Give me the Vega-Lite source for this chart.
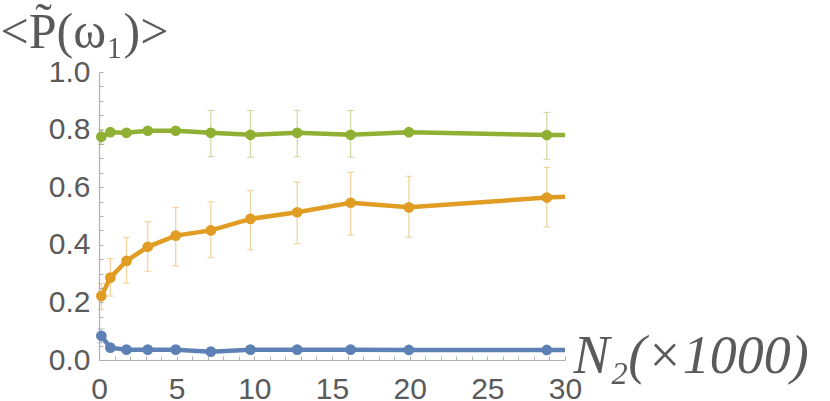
{
  "$schema": "https://vega.github.io/schema/vega-lite/v6.json",
  "width": 466,
  "height": 288,
  "autosize": {"type": "none"},
  "padding": {"left": 99, "top": 72, "right": 265, "bottom": 41},
  "background": "white",
  "config": {"view": {"stroke": null}},
  "data": {"values": [
    {"s": "a", "x": 0.15, "y": 0.084, "lo": 0.06, "hi": 0.108, "m": 1},
    {"s": "a", "x": 0.73, "y": 0.043, "m": 1},
    {"s": "a", "x": 1.77, "y": 0.036, "m": 1},
    {"s": "a", "x": 3.14, "y": 0.036, "m": 1},
    {"s": "a", "x": 4.94, "y": 0.036, "m": 1},
    {"s": "a", "x": 7.2, "y": 0.029, "m": 1},
    {"s": "a", "x": 9.75, "y": 0.036, "m": 1},
    {"s": "a", "x": 12.76, "y": 0.036, "m": 1},
    {"s": "a", "x": 16.2, "y": 0.036, "m": 1},
    {"s": "a", "x": 19.95, "y": 0.035, "m": 1},
    {"s": "a", "x": 28.83, "y": 0.035, "m": 1},
    {"s": "a", "x": 30, "y": 0.035, "m": 0},
    {"s": "b", "x": 0.15, "y": 0.222, "lo": 0.176, "hi": 0.266, "m": 1},
    {"s": "b", "x": 0.73, "y": 0.286, "lo": 0.222, "hi": 0.352, "m": 1},
    {"s": "b", "x": 1.77, "y": 0.344, "lo": 0.267, "hi": 0.426, "m": 1},
    {"s": "b", "x": 3.14, "y": 0.393, "lo": 0.308, "hi": 0.48, "m": 1},
    {"s": "b", "x": 4.94, "y": 0.432, "lo": 0.327, "hi": 0.53, "m": 1},
    {"s": "b", "x": 7.2, "y": 0.45, "lo": 0.355, "hi": 0.549, "m": 1},
    {"s": "b", "x": 9.75, "y": 0.49, "lo": 0.382, "hi": 0.589, "m": 1},
    {"s": "b", "x": 12.76, "y": 0.513, "lo": 0.404, "hi": 0.618, "m": 1},
    {"s": "b", "x": 16.2, "y": 0.546, "lo": 0.434, "hi": 0.652, "m": 1},
    {"s": "b", "x": 19.95, "y": 0.53, "lo": 0.426, "hi": 0.638, "m": 1},
    {"s": "b", "x": 28.83, "y": 0.564, "lo": 0.462, "hi": 0.669, "m": 1},
    {"s": "b", "x": 30, "y": 0.567, "m": 0},
    {"s": "c", "x": 0.15, "y": 0.775, "lo": 0.749, "hi": 0.8, "m": 1},
    {"s": "c", "x": 0.73, "y": 0.791, "m": 1},
    {"s": "c", "x": 1.77, "y": 0.789, "m": 1},
    {"s": "c", "x": 3.14, "y": 0.796, "m": 1},
    {"s": "c", "x": 4.94, "y": 0.796, "m": 1},
    {"s": "c", "x": 7.2, "y": 0.789, "lo": 0.706, "hi": 0.867, "m": 1},
    {"s": "c", "x": 9.75, "y": 0.782, "lo": 0.704, "hi": 0.866, "m": 1},
    {"s": "c", "x": 12.76, "y": 0.789, "lo": 0.706, "hi": 0.867, "m": 1},
    {"s": "c", "x": 16.2, "y": 0.782, "lo": 0.704, "hi": 0.866, "m": 1},
    {"s": "c", "x": 19.95, "y": 0.791, "m": 1},
    {"s": "c", "x": 28.83, "y": 0.781, "lo": 0.697, "hi": 0.86, "m": 1},
    {"s": "c", "x": 30, "y": 0.781, "m": 0}
  ]},
  "resolve": {"axis": {"x": "independent", "y": "independent"}},
  "layer": [
    {
      "transform": [{"filter": "isValid(datum.hi)"}],
      "mark": {"type": "errorbar", "rule": {"strokeWidth": 1.2, "opacity": 0.45}, "ticks": {"size": 7, "strokeWidth": 1.2, "opacity": 0.45}},
      "encoding": {
        "x": {"field": "x", "type": "quantitative", "axis": null},
        "y": {"field": "lo", "type": "quantitative", "axis": null},
        "y2": {"field": "hi"},
        "color": {"field": "s", "type": "nominal", "legend": null,
          "scale": {"domain": ["a", "b", "c"], "range": ["#5E81B5", "#E19C24", "#8FB032"]}}
      }
    },
    {
      "mark": {"type": "line", "strokeWidth": 4.5},
      "encoding": {
        "x": {"field": "x", "type": "quantitative",
          "scale": {"domain": [0, 30], "nice": false, "zero": false},
          "axis": {"orient": "bottom", "values": [0, 5, 10, 15, 20, 25, 30], "ticks": false, "grid": false,
            "domainColor": "#b0b0b0", "domainWidth": 1.2,
            "labelFont": "Liberation Sans", "labelFontSize": 30, "labelColor": "#5a5a5a", "labelPadding": 14, "labelBaseline": "top",
            "labelFlush": false, "labelOverlap": false,
            "title": "N₂(×1000)", "titleFont": "Liberation Serif", "titleFontStyle": "italic", "titleFontWeight": "normal",
            "titleFontSize": 54, "titleColor": "#5a5a5a", "titleAlign": "left", "titleBaseline": "alphabetic",
            "titleAnchor": "start", "titleX": 474, "titleY": 12}},
        "y": {"field": "y", "type": "quantitative",
          "scale": {"domain": [0, 1], "nice": false},
          "axis": {"orient": "left", "values": [0, 0.2, 0.4, 0.6, 0.8, 1.0], "format": ".1f", "ticks": false, "grid": false,
            "domainColor": "#b0b0b0", "domainWidth": 1.2,
            "labelFont": "Liberation Sans", "labelFontSize": 30, "labelColor": "#5a5a5a", "labelPadding": 9,
            "labelFlush": false, "labelOverlap": false,
            "title": "<P̃(ω₁)>", "titleFont": "Liberation Serif", "titleFontStyle": "normal", "titleFontWeight": "normal",
            "titleFontSize": 50, "titleColor": "#5a5a5a", "titleAngle": 0, "titleAlign": "left", "titleBaseline": "alphabetic",
            "titleAnchor": "start", "titleX": -99, "titleY": -25}},
        "color": {"field": "s", "type": "nominal", "legend": null},
        "detail": {"field": "s"}
      }
    },
    {
      "transform": [{"filter": "datum.m == 1"}],
      "mark": {"type": "point", "filled": true, "opacity": 1, "size": 115},
      "encoding": {
        "x": {"field": "x", "type": "quantitative",
          "axis": {"orient": "bottom", "values": [0,1,2,3,4,5,6,7,8,9,10,11,12,13,14,15,16,17,18,19,20,21,22,23,24,25,26,27,28,29,30],
            "labels": false, "domain": false, "grid": false, "title": null,
            "tickColor": "#b0b0b0", "tickWidth": 1, "tickSize": -4}},
        "y": {"field": "y", "type": "quantitative",
          "axis": {"orient": "left", "values": [0,0.05,0.1,0.15,0.2,0.25,0.3,0.35,0.4,0.45,0.5,0.55,0.6,0.65,0.7,0.75,0.8,0.85,0.9,0.95,1.0],
            "labels": false, "domain": false, "grid": false, "title": null,
            "tickColor": "#b0b0b0", "tickWidth": 1, "tickSize": -4}},
        "color": {"field": "s", "type": "nominal", "legend": null}
      }
    }
  ]
}
